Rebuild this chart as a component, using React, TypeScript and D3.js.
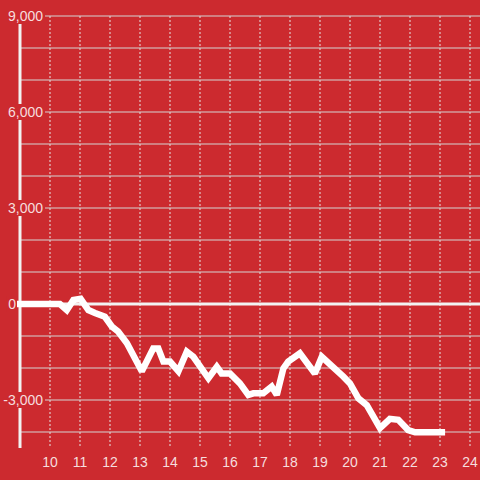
import React from "react";
import * as d3 from "d3";

const hours = [8.9, 10.33, 10.56, 10.78, 11.02, 11.28, 11.5, 11.83, 12.06, 12.27, 12.56, 13.06, 13.44, 13.61, 13.78, 14.0, 14.28, 14.56, 14.78, 15.28, 15.56, 15.72, 16.0, 16.33, 16.61, 16.78, 17.11, 17.39, 17.56, 17.78, 17.94, 18.33, 18.83, 19.06, 19.78, 20.0, 20.28, 20.56, 21.0, 21.33, 21.61, 21.94, 22.17, 23.17];
const values = [0, 0, -190, 125, 160, -190, -280, -400, -700, -860, -1220, -2100, -1390, -1390, -1800, -1800, -2100, -1490, -1650, -2320, -1960, -2170, -2170, -2480, -2840, -2790, -2790, -2580, -2840, -2010, -1800, -1540, -2170, -1650, -2270, -2480, -2950, -3160, -3880, -3590, -3620, -3940, -4010, -4010];
const xTicks = [10, 11, 12, 13, 14, 15, 16, 17, 18, 19, 20, 21, 22, 23, 24];
const yLabelTicks = [9000, 6000, 3000, 0, -3000];
const yGridTicks = [9000, 8000, 7000, 6000, 5000, 4000, 3000, 2000, 1000, -1000, -2000, -3000, -4000];

const W = 480;
const H = 480;
const BG = "#cc2a2f";

export default function App() {
  const x = d3.scaleLinear().domain([9, 24]).range([20, 470]);
  const y = d3.scaleLinear().domain([0, 9000]).range([304, 16]);
  const line = d3
    .line<number>()
    .x((_, i) => x(hours[i]))
    .y((d) => y(d));
  const textColor = "rgba(255,255,255,0.85)";
  const font = "'Liberation Sans', Arial, sans-serif";
  return (
    <svg
      width={W}
      height={H}
      style={{ position: "absolute", left: 0, top: 0, display: "block" }}
    >
      <rect x={0} y={0} width={W} height={H} fill={BG} />
      {xTicks.map((t) => (
        <line
          key={"v" + t}
          x1={x(t)}
          x2={x(t)}
          y1={16}
          y2={448}
          stroke="#e6e6e6"
          strokeWidth={1}
          strokeDasharray="2,2"
        />
      ))}
      {yGridTicks.map((t) => (
        <line
          key={"h" + t}
          x1={20}
          x2={W}
          y1={y(t)}
          y2={y(t)}
          stroke="#d4d4d4"
          strokeWidth={1.2}
        />
      ))}
      <line x1={20} x2={20} y1={16} y2={448} stroke="#f2f2f2" strokeWidth={3} />
      {yLabelTicks.map((t) => {
        const label = d3.format(",")(t).replace("−", "-");
        const right = t === 0 ? 16 : 43;
        const tw = label.length * 7.2;
        return (
          <g key={"yl" + t}>
            <rect x={right - tw - 2} y={y(t) - 8} width={tw + 4} height={16} fill={BG} />
            <text
              x={right}
              y={y(t) + 5}
              textAnchor="end"
              fontSize={14}
              fontFamily={font}
              fill={textColor}
            >
              {label}
            </text>
          </g>
        );
      })}
      <line x1={17} x2={W} y1={y(0)} y2={y(0)} stroke="#f2f2f2" strokeWidth={3} />
      <path
        d={line(values) || ""}
        fill="none"
        stroke="#ffffff"
        strokeWidth={6.5}
        strokeLinejoin="miter"
        strokeMiterlimit={2}
      />
      {xTicks.map((t) => (
        <text
          key={"xl" + t}
          x={x(t)}
          y={467}
          textAnchor="middle"
          fontSize={14}
          fontFamily={font}
          fill={textColor}
        >
          {t}
        </text>
      ))}
    </svg>
  );
}
